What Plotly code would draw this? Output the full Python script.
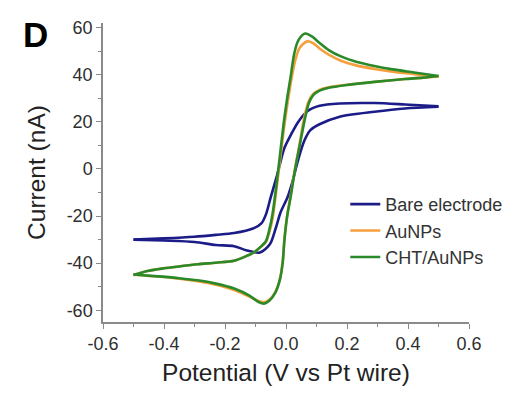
import plotly.graph_objects as go

# ---- data (Potential V, Current nA) ----
bare_fwd_v = [-0.5, -0.4, -0.3, -0.23, -0.17, -0.108, -0.08, -0.066, -0.05, -0.03, -0.005, 0.02, 0.04, 0.07, 0.11, 0.176, 0.29, 0.39, 0.5]
bare_fwd_i = [-30.0, -29.5, -28.8, -28.0, -27.2, -25.3, -23.0, -19.4, -12.0, -3.0, 9.0, 15.5, 20.0, 24.5, 26.8, 27.8, 28.0, 27.4, 26.6]
bare_rev_v = [0.5, 0.39, 0.29, 0.176, 0.11, 0.08, 0.06, 0.04, 0.02, 0.005, -0.018, -0.034, -0.053, -0.086, -0.131, -0.17, -0.23, -0.3, -0.4, -0.5]
bare_rev_i = [26.4, 25.7, 24.3, 22.2, 19.0, 16.5, 12.0, 4.0, -6.0, -12.0, -18.5, -25.3, -32.0, -35.5, -34.5, -32.8, -32.3, -31.0, -30.4, -30.0]

au_fwd_v = [-0.5, -0.45, -0.4, -0.35, -0.29, -0.23, -0.17, -0.13, -0.108, -0.085, -0.066, -0.055, -0.044, -0.025, -0.008, 0.005, 0.015, 0.03, 0.045, 0.07, 0.09, 0.11, 0.14, 0.18, 0.23, 0.29, 0.35, 0.42, 0.5]
au_fwd_i = [-45.0, -43.2, -42.2, -41.4, -40.5, -39.8, -39.0, -37.0, -35.7, -33.3, -31.0, -27.0, -21.0, -2.0, 16.0, 28.0, 36.0, 46.0, 51.5, 54.2, 53.3, 51.2, 48.6, 46.0, 44.0, 42.5, 41.3, 40.3, 39.3]
au_rev_v = [0.5, 0.45, 0.39, 0.29, 0.2, 0.14, 0.11, 0.09, 0.075, 0.06, 0.045, 0.03, 0.015, 0.004, -0.005, -0.011, -0.02, -0.035, -0.055, -0.072, -0.09, -0.12, -0.17, -0.23, -0.29, -0.35, -0.42, -0.5]
au_rev_i = [39.3, 38.8, 38.2, 37.0, 35.8, 34.7, 33.6, 32.0, 29.0, 22.0, 11.0, 0.5, -11.5, -19.5, -29.5, -39.5, -46.8, -52.3, -55.6, -56.6, -56.1, -54.2, -51.4, -49.2, -47.7, -46.6, -45.7, -44.9]

cht_fwd_v = [-0.5, -0.45, -0.4, -0.35, -0.29, -0.23, -0.17, -0.13, -0.108, -0.085, -0.066, -0.055, -0.044, -0.025, -0.008, 0.005, 0.015, 0.027, 0.04, 0.063, 0.085, 0.11, 0.14, 0.18, 0.23, 0.29, 0.35, 0.42, 0.5]
cht_fwd_i = [-45.0, -43.2, -42.2, -41.4, -40.5, -39.8, -39.0, -37.0, -35.7, -33.3, -30.7, -26.0, -19.0, 0.0, 19.0, 31.0, 39.0, 49.0, 54.5, 57.5, 56.3, 53.5, 50.5, 47.8, 45.5, 43.7, 42.3, 41.0, 39.5]
cht_rev_v = [0.5, 0.45, 0.39, 0.29, 0.2, 0.14, 0.11, 0.09, 0.075, 0.06, 0.045, 0.03, 0.015, 0.004, -0.005, -0.011, -0.02, -0.035, -0.055, -0.072, -0.09, -0.12, -0.17, -0.23, -0.29, -0.35, -0.42, -0.5]
cht_rev_i = [39.5, 38.8, 38.2, 37.0, 35.7, 34.5, 33.3, 31.5, 28.0, 20.0, 10.0, 0.0, -12.0, -20.0, -30.0, -40.0, -47.0, -52.5, -56.0, -57.2, -56.5, -53.8, -50.8, -48.7, -47.3, -46.4, -45.6, -44.8]

series_names = ["Bare electrode", "AuNPs", "CHT/AuNPs"]
series_colors = ["#1c1c88", "#f5a03c", "#2a8a2a"]

x_tickvals = [-0.6, -0.4, -0.2, 0.0, 0.2, 0.4, 0.6]
x_ticktext = ["-0.6", "-0.4", "-0.2", "0.0", "0.2", "0.4", "0.6"]
y_tickvals = [-60, -40, -20, 0, 20, 40, 60]
y_ticktext = ["-60", "-40", "-20", "0", "20", "40", "60"]

FONT = "Liberation Sans, Arial, sans-serif"

fig = go.Figure()
branches = [
    (bare_fwd_v, bare_fwd_i, bare_rev_v, bare_rev_i),
    (au_fwd_v, au_fwd_i, au_rev_v, au_rev_i),
    (cht_fwd_v, cht_fwd_i, cht_rev_v, cht_rev_i),
]
for name, color, (fv, fi, rv, ri) in zip(series_names, series_colors, branches):
    fig.add_trace(go.Scatter(x=fv, y=fi, mode="lines", name=name, legendgroup=name,
                             line=dict(color=color, width=2.6, shape="spline", smoothing=0.8)))
    fig.add_trace(go.Scatter(x=rv, y=ri, mode="lines", name=name, legendgroup=name, showlegend=False,
                             line=dict(color=color, width=2.6, shape="spline", smoothing=0.8)))

axis_common = dict(
    showgrid=False, zeroline=False, showline=True, linecolor="#8a8a8a", linewidth=1.5,
    ticks="outside", ticklen=5, tickwidth=1.3, tickcolor="#8a8a8a",
    tickfont=dict(family=FONT, size=18, color="#2e2e2e"),
    mirror=False,
)

fig.update_layout(
    width=510, height=386,
    margin=dict(l=95, r=44, t=10, b=72),
    paper_bgcolor="white", plot_bgcolor="white",
    font=dict(family=FONT, color="#222222"),
    xaxis=dict(range=[-0.6, 0.6], tickvals=x_tickvals, ticktext=x_ticktext,
               minor=dict(ticks="outside", ticklen=3, tickcolor="#8a8a8a", dtick=0.1, tick0=0),
               title=dict(text="Potential (V vs Pt wire)", font=dict(family=FONT, size=24.5, color="#222222"), standoff=11),
               **axis_common),
    yaxis=dict(range=[-65, 62], tickvals=y_tickvals, ticktext=y_ticktext,
               minor=dict(ticks="outside", ticklen=3, tickcolor="#8a8a8a", dtick=10, tick0=0),
               title=dict(text="Current (nA)", font=dict(family=FONT, size=24.5, color="#222222"), standoff=14),
               **axis_common),
    legend=dict(x=0.662, y=0.455, xanchor="left", yanchor="top",
                font=dict(family=FONT, size=18, color="#333333"),
                bgcolor="rgba(0,0,0,0)", tracegroupgap=0, itemwidth=30),
    showlegend=True,
    annotations=[dict(text="<b>D</b>", xref="paper", yref="paper", x=-0.22, y=1.031,
                      xanchor="left", yanchor="top", showarrow=False, borderpad=0,
                      font=dict(family=FONT, size=35, color="black"))],
)

fig.write_html("out.html")
